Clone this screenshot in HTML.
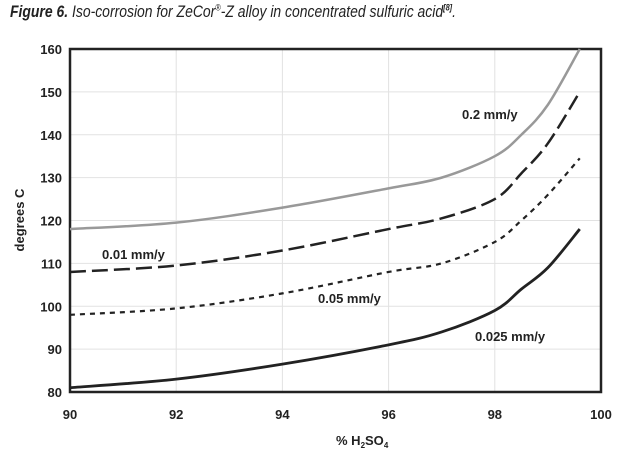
<!DOCTYPE html>
<html><head><meta charset="utf-8"><style>
body{margin:0;background:#fff;width:630px;height:467px;overflow:hidden;font-family:"Liberation Sans",sans-serif}
#title{position:absolute;left:10px;top:2px;font-size:17px;font-style:italic;white-space:nowrap;transform:scaleX(0.82);transform-origin:left top;color:#222}
</style></head><body>
<div id="title"><b>Figure 6.</b> Iso-corrosion for ZeCor<sup style="font-size:9px">®</sup>-Z alloy in concentrated sulfuric acid<sup style="font-size:9px;font-weight:bold">[8]</sup>.</div>
<svg id="chart" width="630" height="467" style="position:absolute;left:0;top:0"></svg>
<script>
const xTicks=[90,92,94,96,98,100];
const yTicks=[80,90,100,110,120,130,140,150,160];
const xs=[90,92,94,96,97,98,98.5,99,99.6];
const s02=[118,119.5,123,127.5,130,135,140,147,160];
const s001=[108,109.5,113,118,120.5,125,131,138,150];
const s005=[98,99.5,103,108,110,115,120,126,134.5];
const s0025=[81,83,86.5,91,94,99,104,109,118];
const L=70,R=601,T=49,B=392;
const X=v=>L+(v-90)/10*(R-L), Y=v=>B-(v-80)/80*(B-T);
const svg=document.getElementById('chart');const NS='http://www.w3.org/2000/svg';
function mk(t,a,p){const e=document.createElementNS(NS,t);for(const k in a)e.setAttribute(k,a[k]);(p||svg).appendChild(e);return e;}
xTicks.forEach(v=>{const g=mk('line',{x1:X(v),x2:X(v),y1:T,y2:B,stroke:'#e2e2e2'});


const t=mk('text',{x:X(v),y:B+27,'text-anchor':'middle','font-size':13,'font-weight':'bold',fill:'#222'});t.textContent=v;

});
yTicks.forEach(v=>{const g=mk('line',{x1:L,x2:R,y1:Y(v),y2:Y(v),stroke:'#e2e2e2'});


const t=mk('text',{x:L-8,y:Y(v)+5,'text-anchor':'end','font-size':13,'font-weight':'bold',fill:'#222'});t.textContent=v;

});
const box=mk('rect',{x:L,y:T,width:R-L,height:B-T,fill:'none',stroke:'#222','stroke-width':2.5});


function path(ys){const p=xs.map((x,i)=>[X(x),Y(ys[i])]);let d='M'+p[0];for(let i=0;i<p.length-1;i++){const p0=p[i-1]||p[i],p1=p[i],p2=p[i+1],p3=p[i+2]||p2;
d+=' C'+(p1[0]+(p2[0]-p0[0])/6)+','+(p1[1]+(p2[1]-p0[1])/6)+' '+(p2[0]-(p3[0]-p1[0])/6)+','+(p2[1]-(p3[1]-p1[1])/6)+' '+p2;}return d;}
const series=[[s02,'#999',2.5,'','series-0.2'],[s001,'#222',2.5,'16 6','series-0.01'],[s005,'#222',2.2,'5 5','series-0.05'],[s0025,'#222',2.8,'','series-0.025']];
series.forEach(s=>{const e=mk('path',{d:path(s[0]),fill:'none',stroke:s[1],'stroke-width':s[2],'stroke-dasharray':s[3]});

});
const labels=[['0.2 mm/y',462,119],['0.01 mm/y',102,259],['0.05 mm/y',318,303],['0.025 mm/y',475,341]];
labels.forEach(l=>{const t=mk('text',{x:l[1],y:l[2],'font-size':13,'font-weight':'bold',fill:'#222'});t.textContent=l[0];

});
const xt=mk('text',{x:336,y:445,'font-size':13,'font-weight':'bold',fill:'#222'});xt.innerHTML='% H<tspan font-size="8" dy="3">2</tspan><tspan dy="-3">SO</tspan><tspan font-size="8" dy="3">4</tspan>';


const yt=mk('text',{x:0,y:0,'font-size':13,'font-weight':'bold',fill:'#222','text-anchor':'middle',transform:'translate(24,220) rotate(-90)'});yt.textContent='degrees C';


</script>
</body></html>
